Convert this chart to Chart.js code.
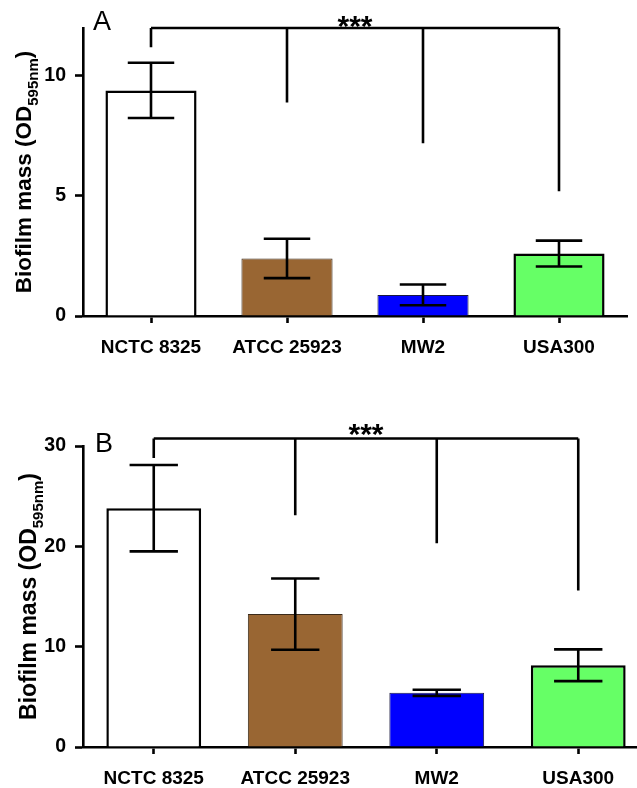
<!DOCTYPE html>
<html><head><meta charset="utf-8">
<script src="https://cdn.jsdelivr.net/npm/chart.js@4"></script>
<style>
html,body{margin:0;padding:0;background:#fff;overflow:hidden;width:637px;height:788px;}
#wrap{position:relative;width:637px;height:788px;overflow:hidden;background:#fff;}
#cA{position:absolute;left:0;top:0;}
#cB{position:absolute;left:0;top:380px;}
</style></head><body>
<div id="wrap">
<canvas id="cA" width="637" height="360"></canvas>
<canvas id="cB" width="660" height="408"></canvas>
</div>
<script>
const categories = ['NCTC 8325', 'ATCC 25923', 'MW2', 'USA300'];

const meansA = [9.4, 2.4, 0.88, 2.6];
const errorsA = [1.15, 0.82, 0.43, 0.54];
const yTicksA = [0, 5, 10];
const bracketTopA = 12;
const bracketDropA = [11.2, 8.9, 7.2, 5.2];

const meansB = [23.8, 13.25, 5.4, 8.15];
const errorsB = [4.3, 3.55, 0.3, 1.58];
const yTicksB = [0, 10, 20, 30];
const bracketTopB = 30.75;
const bracketDropB = [28.8, 23.1, 20.3, 15.6];

const fillColors = ['#FFFFFF', '#996633', '#0000FF', '#66FF66'];
const edgeColors = ['#000000', '#3a2a1a', '#1a1a40', '#000000'];
const edgeWidths = [2.5, 1, 1, 2.5];

const FONT = "'Liberation Sans', Arial, Helvetica, sans-serif";

function makeChart(id, cfg) {
  const errorPlugin = {
    id: 'errbars',
    afterDatasetsDraw(chart) {
      const ctx = chart.ctx;
      const meta = chart.getDatasetMeta(0);
      const y = chart.scales.y;
      ctx.save();
      ctx.strokeStyle = '#000';
      ctx.lineWidth = 2.6;
      ctx.lineCap = 'butt';
      meta.data.forEach((bar, i) => {
        const m = cfg.means[i], e = cfg.errors[i];
        const yt = y.getPixelForValue(m + e), yb = y.getPixelForValue(m - e);
        const hw = bar.width * 0.255;
        ctx.beginPath();
        ctx.moveTo(bar.x, yt); ctx.lineTo(bar.x, yb);
        ctx.moveTo(bar.x - hw, yt); ctx.lineTo(bar.x + hw, yt);
        ctx.moveTo(bar.x - hw, yb); ctx.lineTo(bar.x + hw, yb);
        ctx.stroke();
      });
      ctx.restore();
    }
  };
  const annoPlugin = {
    id: 'anno',
    afterDraw(chart) {
      const ctx = chart.ctx;
      const x = chart.scales.x, y = chart.scales.y;
      const area = chart.chartArea;
      ctx.save();
      // significance bracket
      ctx.strokeStyle = '#000';
      ctx.lineWidth = 2.6;
      ctx.lineCap = 'butt';
      const yTop = y.getPixelForValue(cfg.bracketTop);
      const x0 = x.getPixelForValue(0), x3 = x.getPixelForValue(categories.length - 1);
      ctx.beginPath();
      ctx.moveTo(x0, yTop); ctx.lineTo(x3, yTop);
      cfg.bracketDrop.forEach((v, i) => {
        const px = x.getPixelForValue(i);
        ctx.moveTo(px, yTop); ctx.lineTo(px, y.getPixelForValue(v));
      });
      ctx.stroke();
      // stars
      ctx.fillStyle = '#000';
      ctx.font = 'bold 30px ' + FONT;
      ctx.textAlign = 'center';
      ctx.textBaseline = 'alphabetic';
      const sx = (x.getPixelForValue(1) + x.getPixelForValue(2)) / 2;
      ctx.fillText('***', sx, yTop - cfg.starGap + 0.716 * 30);
      // panel letter
      ctx.font = cfg.letterSize + 'px ' + FONT;
      ctx.textAlign = 'left';
      ctx.fillText(cfg.letter, area.left + cfg.letterDx, area.top + cfg.letterDy);
      // y title with subscript
      const cy = (area.top + area.bottom) / 2;
      ctx.translate(cfg.titleX, cy);
      ctx.rotate(-Math.PI / 2);
      const fMain = 'bold ' + cfg.titleSize + 'px ' + FONT;
      const fSub = 'bold ' + Math.round(cfg.titleSize * 0.66) + 'px ' + FONT;
      const p1 = 'Biofilm mass (OD', p2 = '595nm', p3 = ')';
      ctx.font = fMain; const w1 = ctx.measureText(p1).width, w3 = ctx.measureText(p3).width;
      ctx.font = fSub; const w2 = ctx.measureText(p2).width;
      let tx = -(w1 + w2 + w3) / 2;
      ctx.textBaseline = 'middle';
      ctx.font = fMain; ctx.fillText(p1, tx, 0); tx += w1;
      ctx.font = fSub; ctx.fillText(p2, tx, cfg.titleSize * 0.38); tx += w2;
      ctx.font = fMain; ctx.fillText(p3, tx, 0);
      ctx.restore();
    }
  };
  return new Chart(document.getElementById(id), {
    type: 'bar',
    data: {
      labels: categories,
      datasets: [{
        data: cfg.means,
        backgroundColor: fillColors,
        borderColor: edgeColors,
        borderWidth: edgeWidths,
        barPercentage: 0.67,
        categoryPercentage: 1.0
      }]
    },
    options: {
      responsive: false,
      animation: false,
      devicePixelRatio: 1,
      layout: { padding: { top: cfg.padTop, right: cfg.padRight, left: 0, bottom: 0 } },
      plugins: { legend: { display: false }, tooltip: { enabled: false } },
      scales: {
        x: {
          grid: { display: true, offset: false, drawOnChartArea: false, drawTicks: true, tickLength: 7, tickWidth: 2.6, tickColor: '#000' },
          border: { display: true, width: 2.6, color: '#000' },
          ticks: { color: '#000', font: { family: FONT, size: 19, weight: 'bold' }, padding: 13, maxRotation: 0, autoSkip: false },
          afterFit(s) { s.height = cfg.xHeight; }
        },
        y: {
          min: 0, max: cfg.yMax,
          afterBuildTicks(s) { s.ticks = cfg.yTicks.map(v => ({ value: v })); },
          grid: { display: true, drawOnChartArea: false, drawTicks: true, tickLength: 8, tickWidth: 2.6, tickColor: '#000' },
          border: { display: true, width: 2.6, color: '#000' },
          ticks: { color: '#000', font: { family: FONT, size: 19.5, weight: 'bold' }, padding: 9 },
          afterFit(s) { s.width = 83; }
        }
      }
    },
    plugins: [errorPlugin, annoPlugin]
  });
}

makeChart('cA', {
  means: meansA, errors: errorsA, yTicks: yTicksA, yMax: 12,
  bracketTop: bracketTopA, bracketDrop: bracketDropA,
  padTop: 28, padRight: 10, xHeight: 44,
  letter: 'A', letterSize: 27, letterDx: 10, letterDy: 2, starGap: 13,
  titleX: 25, titleSize: 22.5
});
makeChart('cB', {
  means: meansB, errors: errorsB, yTicks: yTicksB, yMax: 30,
  bracketTop: bracketTopB, bracketDrop: bracketDropB,
  padTop: 66, padRight: 11, xHeight: 41,
  letter: 'B', letterSize: 27, letterDx: 12, letterDy: 6, starGap: 16,
  titleX: 30, titleSize: 23
});
</script>
</body></html>
